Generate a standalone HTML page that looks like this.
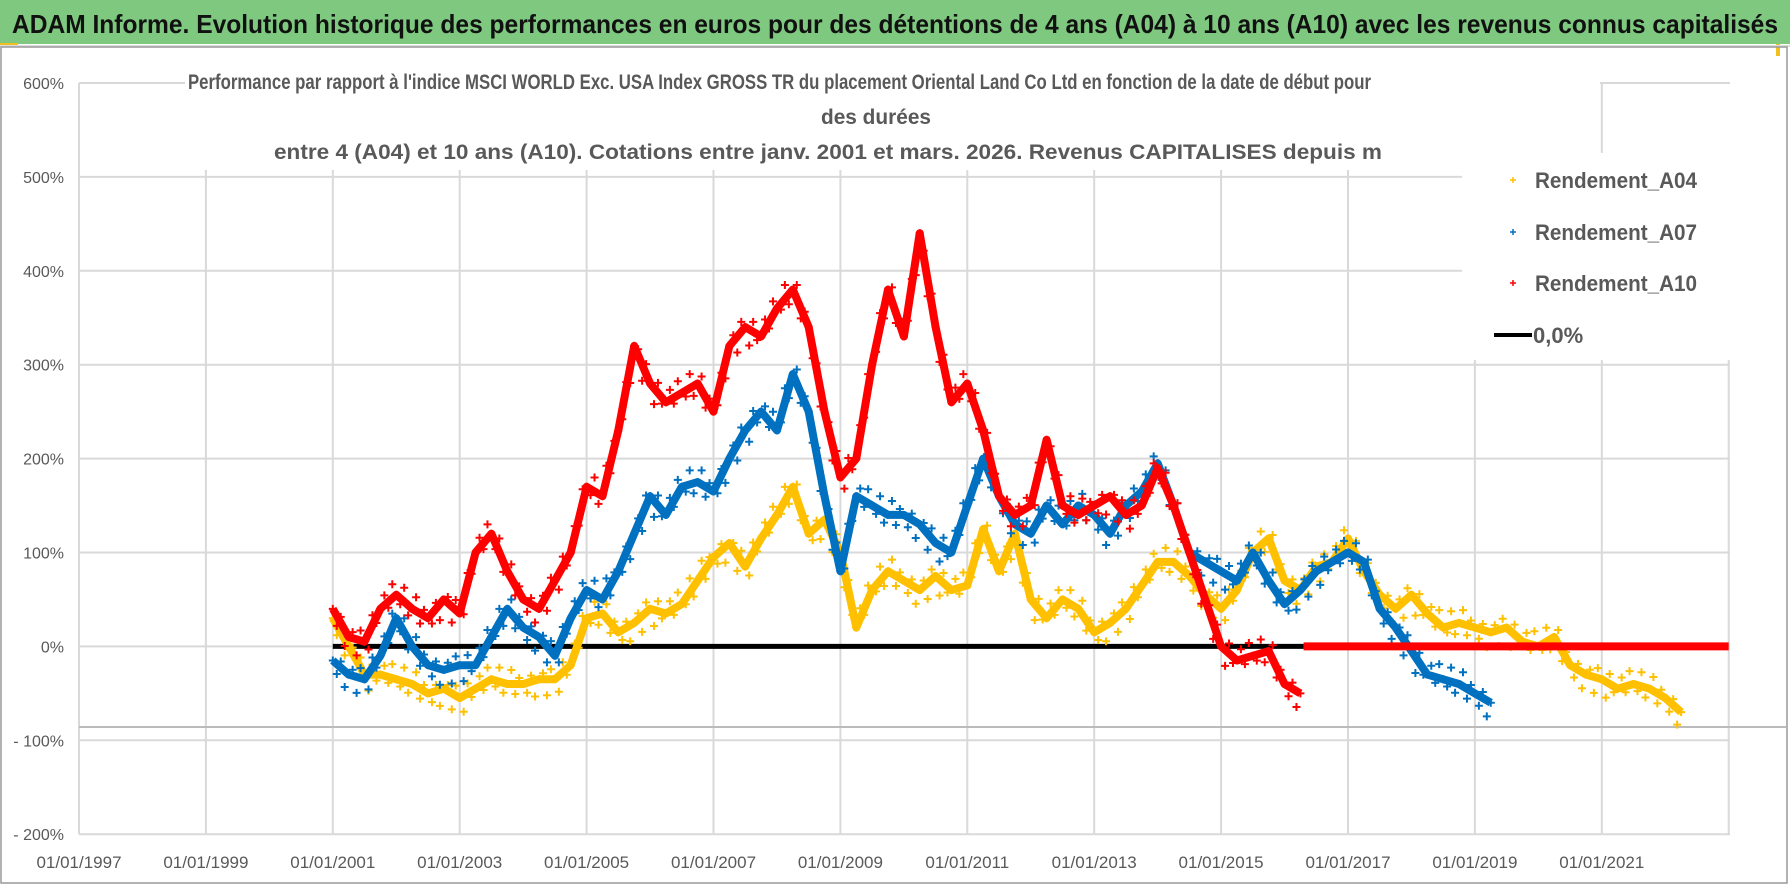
<!DOCTYPE html>
<html><head><meta charset="utf-8"><style>
html,body{margin:0;padding:0;background:#fff;}
svg{display:block;font-family:"Liberation Sans",sans-serif;}
</style></head><body>
<svg id="chart" width="1790" height="886" viewBox="0 0 1790 886" xmlns="http://www.w3.org/2000/svg">
<rect x="0" y="0" width="1790" height="886" fill="#fff"/>
<rect x="0" y="0" width="1790" height="44" fill="#7ec87f"/>
<rect x="0" y="43" width="18" height="4" fill="#f0c020"/>
<rect x="1776" y="44" width="4" height="12" fill="#f0c020"/>
<text x="12" y="33" font-size="26" font-weight="bold" fill="#111" textLength="1766" lengthAdjust="spacingAndGlyphs">ADAM Informe. Evolution historique des performances en euros pour des détentions de 4 ans (A04) à 10 ans (A10) avec les revenus connus capitalisés</text>
<line x1="0" y1="46" x2="1790" y2="46" stroke="#ddd" stroke-width="2"/>
<rect x="1" y="47" width="1786" height="836" fill="none" stroke="#999" stroke-width="1.5"/>
<g id="grid"></g>
<line x1="79" y1="727" x2="1786" y2="727" stroke="#bbb" stroke-width="2"/>
<rect x="185" y="66" width="1415" height="104" fill="#fff"/>
<g font-size="21" font-weight="bold" fill="#595959">
<text x="188" y="89" textLength="1183" lengthAdjust="spacingAndGlyphs">Performance par rapport à l'indice MSCI WORLD Exc. USA Index GROSS TR  du placement Oriental Land Co Ltd en fonction de la date de début pour</text>
<text x="876" y="124" text-anchor="middle" textLength="110" lengthAdjust="spacingAndGlyphs">des durées</text>
<text x="274" y="159" textLength="1108" lengthAdjust="spacingAndGlyphs">entre 4 (A04) et 10 ans (A10). Cotations entre janv. 2001 et mars. 2026. Revenus CAPITALISES depuis m</text>
</g>
<g id="series"></g>
<rect x="1462" y="153" width="268" height="207" fill="#fff"/>
<g font-size="22" font-weight="bold" fill="#595959">
<g><path d="M1510 180h6M1513 177v6" stroke="#ffc000" stroke-width="1.5"/><text x="1535" y="188" textLength="162" lengthAdjust="spacingAndGlyphs">Rendement_A04</text></g>
<g><path d="M1510 232h6M1513 229v6" stroke="#0070c0" stroke-width="1.5"/><text x="1535" y="240" textLength="162" lengthAdjust="spacingAndGlyphs">Rendement_A07</text></g>
<g><path d="M1510 283h6M1513 280v6" stroke="#ff0000" stroke-width="1.5"/><text x="1535" y="291" textLength="162" lengthAdjust="spacingAndGlyphs">Rendement_A10</text></g>
<g><line x1="1494" y1="335" x2="1532" y2="335" stroke="#000" stroke-width="4"/><text x="1533" y="343">0,0%</text></g>
</g>
</svg>
<script>
const yTicks=[600,500,400,300,200,100,0,-100,-200];
const yTickLabels=["600%","500%","400%","300%","200%","100%","0%","- 100%","- 200%"];
const xTicks=[1997,1999,2001,2003,2005,2007,2009,2011,2013,2015,2017,2019,2021];
const xTickLabels=["01/01/1997","01/01/1999","01/01/2001","01/01/2003","01/01/2005","01/01/2007","01/01/2009","01/01/2011","01/01/2013","01/01/2015","01/01/2017","01/01/2019","01/01/2021"];
const a04Start=2001.0;
const a04=[30,0,-30,-30,-35,-40,-50,-45,-55,-45,-35,-40,-40,-35,-35,-20,30,35,15,25,40,35,45,70,95,110,85,115,140,170,120,135,100,20,60,80,70,60,75,60,65,125,80,120,50,30,50,40,15,25,40,65,90,90,75,55,40,60,100,115,70,60,85,90,115,80,55,40,55,35,20,25,20,15,20,5,0,10,-20,-30,-35,-45,-40,-45,-55,-70];
const a07Start=2001.0;
const a07=[-15,-30,-35,-10,30,0,-20,-25,-20,-20,10,40,20,10,-10,30,60,50,80,120,160,140,170,175,165,200,230,250,230,290,250,160,80,160,150,140,140,130,110,100,150,200,160,130,120,150,130,150,140,120,150,165,195,150,100,90,80,70,100,70,45,60,80,90,100,90,40,20,-5,-30,-35,-40,-50,-60];
const a10Start=2001.0;
const a10=[40,10,5,40,55,40,30,50,35,100,120,80,50,40,70,100,170,160,230,320,280,260,270,280,250,320,340,330,360,380,340,250,180,200,300,380,330,440,340,260,280,230,160,140,150,220,150,140,150,160,140,150,190,150,100,50,0,-15,-10,-5,-40,-50];
const zeroLineRange=[2001.0,2016.3];
const a10ZeroRange=[2016.3,2023.0];
const step=0.25;

const NS="http://www.w3.org/2000/svg";
const X=y=>79+(y-1997)*63.45;
const Y=p=>646.4-p*0.939;
function mk(tag,attrs,parent){const e=document.createElementNS(NS,tag);for(const k in attrs)e.setAttribute(k,attrs[k]);parent.appendChild(e);return e;}
const grid=document.getElementById('grid');
yTicks.forEach((t,i)=>{
  const l=mk('line',{x1:79,x2:1730,y1:Y(t),y2:Y(t),stroke:'#d9d9d9','stroke-width':2},grid);
  
  
  const tx=mk('text',{x:64,y:Y(t)+6,'text-anchor':'end','font-size':16,fill:'#595959'},grid);
  tx.textContent=yTickLabels[i];
  
  
});
xTicks.forEach((t,i)=>{
  const l=mk('line',{x1:X(t),x2:X(t),y1:Y(600),y2:Y(-200),stroke:'#d9d9d9','stroke-width':2},grid);
  
  
  const tx=mk('text',{x:X(t),y:868,'text-anchor':'middle','font-size':17,fill:'#595959'},grid);
  tx.textContent=xTickLabels[i];
  
  
});
mk('line',{x1:X(2023),x2:X(2023),y1:Y(500),y2:Y(-200),stroke:'#d9d9d9','stroke-width':2},grid);
const sg=document.getElementById('series');
const zl=mk('line',{x1:X(zeroLineRange[0]),x2:X(zeroLineRange[1]),y1:Y(0),y2:Y(0),stroke:'#000','stroke-width':5},sg);


function series(vals,start,color,name){
  const g=mk('g',{},sg);
  
  
  const pts=vals.map((v,i)=>X(start+i*step).toFixed(1)+','+Y(v).toFixed(1)).join(' ');
  mk('polyline',{points:pts,fill:'none',stroke:color,'stroke-width':8,'stroke-linejoin':'round'},g);
  let d='';
  const off=[-14,10,-6,16,-10,6];
  vals.forEach((v,i)=>{const x=X(start+i*step),y=Y(v);
    d+=`M${x-4} ${y}h8M${x} ${y-4}v8`;
    if(i<vals.length-1){
      for(let k=1;k<4;k++){const f=k/4;const x2=X(start+(i+f)*step);const y2=Y(v+(vals[i+1]-v)*f)+off[(i+k)%6];
        d+=`M${x2-4} ${y2}h8M${x2} ${y2-4}v8`;}
    }
  });
  mk('path',{d:d,stroke:color,'stroke-width':2,fill:'none'},g);
}
series(a04,a04Start,'#ffc000','series-a04');
series(a07,a07Start,'#0070c0','series-a07');
series(a10,a10Start,'#ff0000','series-a10');
const rz=mk('line',{x1:X(a10ZeroRange[0]),x2:X(a10ZeroRange[1]),y1:Y(0),y2:Y(0),stroke:'#ff0000','stroke-width':8},sg);


</script>
</body></html>
